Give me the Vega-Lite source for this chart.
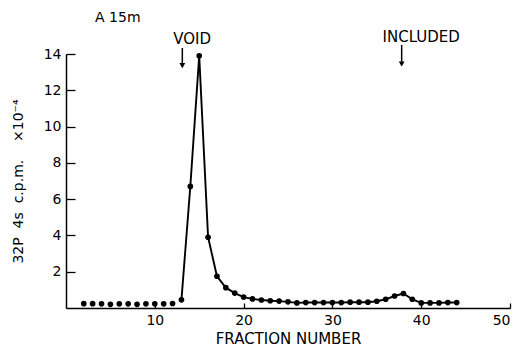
{
  "$schema": "https://vega.github.io/schema/vega-lite/v6.json",
  "autosize": {"type": "none"},
  "padding": {"left": 66, "top": 54, "right": 9, "bottom": 40},
  "width": 444,
  "height": 254,
  "background": "white",
  "config": {
    "view": {"stroke": null},
    "font": "DejaVu Sans",
    "axis": {"grid": false, "domainColor": "black", "tickColor": "black", "labelColor": "black", "titleColor": "black", "domainWidth": 1.5, "tickWidth": 1.3, "labelFont": "DejaVu Sans", "titleFont": "DejaVu Sans", "titleFontWeight": "normal"}
  },
  "datasets": {
    "profile": [
      {"f": 2, "v": 0.24}, {"f": 3, "v": 0.24}, {"f": 4, "v": 0.23}, {"f": 5, "v": 0.2}, {"f": 6, "v": 0.23},
      {"f": 7, "v": 0.23}, {"f": 8, "v": 0.2}, {"f": 9, "v": 0.23}, {"f": 10, "v": 0.23}, {"f": 11, "v": 0.23},
      {"f": 12, "v": 0.25}, {"f": 13, "v": 0.45}, {"f": 14, "v": 6.7}, {"f": 15, "v": 13.9}, {"f": 16, "v": 3.9},
      {"f": 17, "v": 1.75}, {"f": 18, "v": 1.12}, {"f": 19, "v": 0.82}, {"f": 20, "v": 0.6}, {"f": 21, "v": 0.5},
      {"f": 22, "v": 0.44}, {"f": 23, "v": 0.4}, {"f": 24, "v": 0.38}, {"f": 25, "v": 0.34}, {"f": 26, "v": 0.28},
      {"f": 27, "v": 0.3}, {"f": 28, "v": 0.3}, {"f": 29, "v": 0.3}, {"f": 30, "v": 0.3}, {"f": 31, "v": 0.3},
      {"f": 32, "v": 0.32}, {"f": 33, "v": 0.32}, {"f": 34, "v": 0.32}, {"f": 35, "v": 0.37}, {"f": 36, "v": 0.48},
      {"f": 37, "v": 0.66}, {"f": 38, "v": 0.8}, {"f": 39, "v": 0.48}, {"f": 40, "v": 0.28}, {"f": 41, "v": 0.28},
      {"f": 42, "v": 0.28}, {"f": 43, "v": 0.3}, {"f": 44, "v": 0.3}
    ],
    "arrows": [
      {"f": 13.1, "v": 14.33, "v2": 13.3, "head": 13.36},
      {"f": 37.8, "v": 14.5, "v2": 13.4, "head": 13.45}
    ],
    "labels": [
      {"f": 14.2, "v": 14.83, "text": "VOID"},
      {"f": 40.0, "v": 14.94, "text": "INCLUDED"}
    ],
    "heading": [
      {"f": 3.27, "v": 16.0, "text": "A 15m"}
    ]
  },
  "layer": [
    {
      "data": {"name": "profile"},
      "transform": [{"filter": "datum.f >= 13"}],
      "mark": {"type": "line", "color": "black", "strokeWidth": 1.9},
      "encoding": {
        "x": {"field": "f", "type": "quantitative"},
        "y": {"field": "v", "type": "quantitative"}
      }
    },
    {
      "data": {"name": "profile"},
      "mark": {"type": "point", "filled": true, "color": "black", "size": 32, "opacity": 1},
      "encoding": {
        "x": {"field": "f", "type": "quantitative", "scale": {"domain": [0, 50], "nice": false, "zero": false},
          "axis": {"values": [10, 20, 30, 40, 50], "tickSize": -5, "labelFontSize": 14, "labelPadding": 10, "title": "FRACTION NUMBER", "titleFontSize": 15, "titlePadding": 4}},
        "y": {"field": "v", "type": "quantitative", "scale": {"domain": [0, 14], "nice": false},
          "axis": {"values": [2, 4, 6, 8, 10, 12, 14], "tickSize": -9, "labelFontSize": 14, "labelPadding": 14, "title": "32P\u00a0\u00a04s\u00a0\u00a0c.p.m.\u00a0\u00a0\u00a0\u00a0×10⁻⁴", "titleFontSize": 14, "titleX": -41, "titleY": 127}}
      }
    },
    {
      "data": {"name": "arrows"},
      "mark": {"type": "rule", "color": "black", "strokeWidth": 1.5},
      "encoding": {
        "x": {"field": "f", "type": "quantitative"},
        "y": {"field": "v", "type": "quantitative"},
        "y2": {"field": "v2"}
      }
    },
    {
      "data": {"name": "arrows"},
      "mark": {"type": "point", "shape": "triangle-down", "filled": true, "color": "black", "size": 34, "opacity": 1},
      "encoding": {
        "x": {"field": "f", "type": "quantitative"},
        "y": {"field": "head", "type": "quantitative"}
      }
    },
    {
      "data": {"name": "labels"},
      "mark": {"type": "text", "fontSize": 15, "color": "black", "baseline": "middle", "align": "center"},
      "encoding": {
        "x": {"field": "f", "type": "quantitative"},
        "y": {"field": "v", "type": "quantitative"},
        "text": {"field": "text"}
      }
    },
    {
      "data": {"name": "heading"},
      "mark": {"type": "text", "fontSize": 14, "color": "black", "baseline": "middle", "align": "left"},
      "encoding": {
        "x": {"field": "f", "type": "quantitative"},
        "y": {"field": "v", "type": "quantitative"},
        "text": {"field": "text"}
      }
    }
  ]
}
